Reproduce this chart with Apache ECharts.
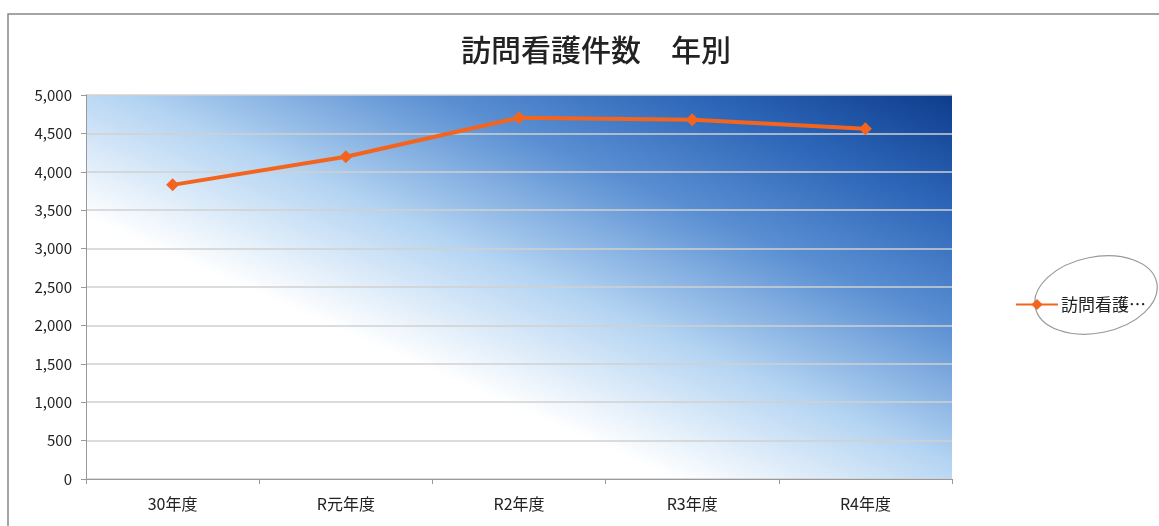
<!DOCTYPE html>
<html><head><meta charset="utf-8">
<script src="https://cdn.jsdelivr.net/npm/echarts@6/dist/echarts.min.js"></script>
<style>html,body{margin:0;padding:0;background:#fff}#c{width:1159px;height:526px}</style>
</head><body><div id="c"></div>
<script>
const categories = ['30年度', 'R元年度', 'R2年度', 'R3年度', 'R4年度'];
const seriesName = '訪問看護件数';
const values = [3830, 4195, 4703, 4677, 4560];
const yTicks = [0, 500, 1000, 1500, 2000, 2500, 3000, 3500, 4000, 4500, 5000];

const font = '"Noto Sans CJK JP", "Noto Sans", sans-serif';
// gradient perpendicular to plot-area diagonal (top-left -> bottom-right)
const gL = 86, gR = 952, gT = 95, gB = 479;
const cx = (gL + gR) / 2, cy = (gT + gB) / 2;
const w = gR - gL, h = gB - gT;
const len = Math.hypot(w, h);
const ux = h / len, uy = -w / len;
const half = ((w / 2) * ux + (h / 2) * -uy);
const chart = echarts.init(document.getElementById('c'));
chart.setOption({
  animation: false,
  title: {
    text: '訪問看護件数　年別', left: 591, top: 30, textAlign: 'center',
    textStyle: { fontFamily: font, fontSize: 30, fontWeight: 500, color: '#222' }
  },
  legend: {
    left: 1010, top: 291, itemWidth: 42, itemHeight: 14, itemGap: 4,
    formatter: n => n.slice(0, 4) + '…',
    textStyle: { fontFamily: font, fontSize: 17, color: '#222', padding: [0, 0, 0, -2] },
    data: [seriesName]
  },
  grid: {
    left: gL, right: 1159 - gR, top: gT, bottom: 526 - gB, show: true, borderWidth: 0,
    backgroundColor: {
      type: 'linear', global: true,
      x: cx - half * ux, y: cy - half * uy, x2: cx + half * ux, y2: cy + half * uy,
      colorStops: [
        { offset: 0, color: '#ffffff' },
        { offset: 0.34, color: '#ffffff' },
        { offset: 0.52, color: '#b4d4f2' },
        { offset: 0.7, color: '#5a8fd2' },
        { offset: 0.85, color: '#2d66b8' },
        { offset: 1, color: '#0e3c8c' }
      ]
    }
  },
  xAxis: {
    type: 'category', data: categories, boundaryGap: true,
    axisLine: { lineStyle: { color: '#999' } },
    axisTick: { show: true, lineStyle: { color: '#999' } },
    axisLabel: { fontFamily: font, fontSize: 16, color: '#222', margin: 17 }
  },
  yAxis: {
    type: 'value', min: 0, max: 5000, interval: 500,
    axisLine: { show: true, lineStyle: { color: '#999' } },
    axisTick: { show: true, length: 5, lineStyle: { color: '#999' } },
    splitLine: { lineStyle: { color: '#d0d0d0', width: 1.5 } },
    axisLabel: {
      fontFamily: font, fontSize: 15, color: '#222', margin: 14,
      formatter: v => yTicks.includes(v) ? v.toLocaleString('en-US') : ''
    }
  },
  series: [{
    name: seriesName, type: 'line', data: values,
    symbol: 'diamond', symbolSize: 13,
    lineStyle: { color: '#f3651f', width: 4 },
    itemStyle: { color: '#f3651f' }
  }],
  graphic: [
    { type: 'polyline', shape: { points: [[8, 526], [8, 14], [1159, 14]] }, style: { stroke: '#888', lineWidth: 1.5, fill: null } },
    { type: 'ellipse', shape: { cx: 1096, cy: 295, rx: 62, ry: 38 }, rotation: 0.2, originX: 1096, originY: 295, style: { stroke: '#999', lineWidth: 1.2, fill: null } }
  ]
});
</script></body></html>
